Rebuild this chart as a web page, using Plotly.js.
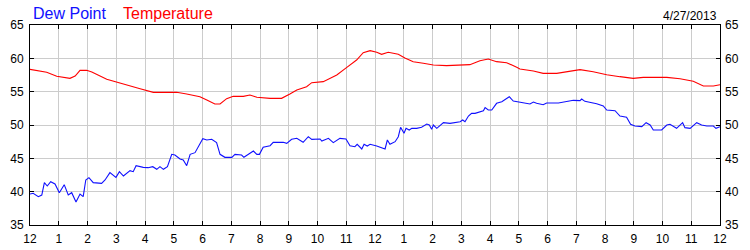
<!DOCTYPE html>
<html>
<head>
<meta charset="utf-8">
<script src="https://cdn.plot.ly/plotly-3.0.1.min.js"></script>
<style>html,body{margin:0;padding:0;background:#fff}#chart{width:750px;height:250px}</style>
</head>
<body>
<div id="chart"></div>
<script>
// Hours since midnight (0 = 12 AM, 24 = next 12 AM)
const tempHours = [0,0.58,0.93,1.39,1.57,1.74,1.97,2.15,2.67,3.13,3.59,3.83,4.29,5.10,5.45,5.91,6.15,6.43,6.61,6.84,7.07,7.42,7.65,7.89,8.35,8.75,9.04,9.28,9.62,9.80,10.20,10.67,11.02,11.36,11.59,11.83,12.06,12.23,12.46,12.81,13.04,13.33,13.68,14.03,14.49,14.84,15.30,15.65,15.94,16.23,16.58,16.93,17.04,17.51,17.85,18.32,18.67,19.13,19.59,20.06,20.52,20.98,21.33,22.15,22.61,23.07,23.42,23.77,24];
const temperature = [58.35,57.9,57.3,57.0,57.35,58.2,58.2,57.95,56.85,56.25,55.7,55.45,54.9,54.9,54.65,54.25,53.75,53.15,53.15,53.95,54.3,54.3,54.5,54.15,54.0,54.0,54.65,55.25,55.75,56.35,56.5,57.5,58.65,59.75,60.85,61.15,60.9,60.6,60.9,60.6,60.05,59.5,59.25,59.0,58.9,59.0,59.05,59.65,59.9,59.5,59.35,58.65,58.4,58.1,57.75,57.75,58.0,58.3,58.0,57.55,57.25,57.0,57.15,57.15,56.95,56.55,55.85,55.85,56.05];

const dewHours = [0,0.11,0.29,0.41,0.50,0.60,0.72,0.87,1.02,1.19,1.33,1.45,1.60,1.74,1.85,1.94,2.05,2.20,2.49,2.61,2.78,2.99,3.11,3.25,3.48,3.59,3.69,3.94,4.11,4.27,4.41,4.52,4.64,4.78,4.93,5.04,5.22,5.33,5.45,5.57,5.74,5.91,6.01,6.15,6.32,6.49,6.61,6.78,7.02,7.13,7.36,7.44,7.59,7.77,7.89,7.98,8.11,8.35,8.46,8.81,8.93,9.10,9.28,9.39,9.50,9.68,9.80,10.09,10.15,10.38,10.55,10.78,10.99,11.13,11.30,11.38,11.54,11.62,11.73,11.83,12.06,12.35,12.43,12.52,12.70,12.81,12.89,13.01,13.08,13.19,13.28,13.45,13.62,13.80,13.89,13.97,14.03,14.15,14.38,14.61,14.96,15.05,15.13,15.25,15.36,15.48,15.77,15.83,15.94,16.06,16.23,16.41,16.52,16.67,16.81,17.04,17.39,17.51,17.62,17.85,17.97,18.38,18.90,19.13,19.19,19.30,19.71,19.94,20.06,20.35,20.52,20.75,20.89,21.04,21.28,21.43,21.57,21.68,21.97,22.15,22.26,22.49,22.70,22.78,22.96,23.19,23.36,23.54,23.77,23.86,24];
const dewPoint = [39.65,39.75,39.25,39.5,41.35,40.85,41.5,41.15,39.85,41.05,39.5,39.85,38.45,39.65,39.25,41.75,42.1,41.35,41.25,41.75,42.85,42.15,43.0,42.35,43.15,43.0,43.9,43.65,43.6,43.75,43.35,43.75,43.35,43.75,45.6,45.5,44.9,44.75,43.9,45.6,45.85,47.15,47.95,47.75,47.85,47.35,45.6,45.15,45.15,45.6,45.5,45.15,45.6,46.1,45.6,45.6,46.65,46.9,47.4,47.4,47.25,47.85,48.0,47.65,47.4,48.25,47.85,47.9,47.6,48.0,47.35,48.0,47.9,46.9,46.75,47.1,46.4,47.1,46.85,47.1,46.85,46.4,47.75,47.1,47.5,48.25,49.65,48.75,49.5,49.25,49.5,49.5,49.65,50.15,50.0,49.35,50.0,49.5,50.35,50.25,50.5,50.75,50.5,51.35,51.75,51.75,52.15,52.6,52.25,52.25,53.25,53.5,53.85,54.25,53.6,53.4,53.15,53.45,53.25,53.05,53.3,53.3,53.7,53.65,53.9,53.55,53.2,52.85,52.25,52.15,51.35,51.15,50.1,49.85,49.75,50.35,50.0,49.25,49.25,50.0,50.1,49.5,50.35,49.6,49.5,50.35,50.0,49.85,49.85,49.5,49.75];

const tickVals = [0,1,2,3,4,5,6,7,8,9,10,11,12,13,14,15,16,17,18,19,20,21,22,23,24];
const tickText = ['12','1','2','3','4','5','6','7','8','9','10','11','12','1','2','3','4','5','6','7','8','9','10','11','12'];
const yTicks = [35,40,45,50,55,60,65];
const dateLabel = '4/27/2013';

const font = {family: 'Arial, "Liberation Sans", sans-serif', size: 12, color: '#000'};

const traces = [
  {x: dewHours, y: dewPoint, type: 'scatter', mode: 'lines', name: 'Dew Point',
   line: {color: '#1010ff', width: 1.1}, hoverinfo: 'skip'},
  {x: tempHours, y: temperature, type: 'scatter', mode: 'lines', name: 'Temperature',
   line: {color: '#ff0000', width: 1.1}, hoverinfo: 'skip'}
];

const layout = {
  width: 750, height: 250,
  margin: {l: 30, r: 30, t: 25, b: 25, pad: 0},
  paper_bgcolor: '#fff', plot_bgcolor: '#fff',
  showlegend: false,
  font: font,
  xaxis: {
    range: [0, 24], tickvals: tickVals, ticktext: tickText,
    showgrid: true, gridcolor: '#cccccc', gridwidth: 1,
    ticks: 'inside', ticklen: 4, tickcolor: '#000', tickwidth: 1,
    showline: true, linecolor: '#000', linewidth: 1, mirror: 'ticks',
    zeroline: false, fixedrange: true, tickfont: font, ticklabelstandoff: 3
  },
  yaxis: {
    range: [35, 65], tickvals: yTicks,
    showgrid: true, gridcolor: '#cccccc', gridwidth: 1,
    ticks: 'inside', ticklen: 4, tickcolor: '#000', tickwidth: 1,
    showline: true, linecolor: '#000', linewidth: 1, mirror: true,
    zeroline: false, fixedrange: true, tickfont: font, ticklabelstandoff: 3
  },
  yaxis2: {
    range: [35, 65], tickvals: yTicks, overlaying: 'y', side: 'right',
    showgrid: false, ticks: 'inside', ticklen: 4, tickcolor: '#000', tickwidth: 1,
    showline: false, zeroline: false, fixedrange: true, tickfont: font, ticklabelstandoff: 4
  },
  annotations: [
    {xref: 'paper', yref: 'paper', x: 1/690, y: 1, yshift: 1, xanchor: 'left', yanchor: 'bottom',
     text: 'Dew Point', showarrow: false, font: {family: font.family, size: 16, color: '#1010ff'}},
    {xref: 'paper', yref: 'paper', x: 91/690, y: 1, yshift: 1, xanchor: 'left', yanchor: 'bottom',
     text: 'Temperature', showarrow: false, font: {family: font.family, size: 16, color: '#ff0000'}},
    {xref: 'paper', yref: 'paper', x: 1, xshift: -1, y: 1, xanchor: 'right', yanchor: 'bottom',
     text: dateLabel, showarrow: false, font: {family: font.family, size: 12, color: '#000'}}
  ]
};

// invisible trace to activate the right-hand axis
traces.push({x: [0], y: [35], yaxis: 'y2', type: 'scatter', mode: 'markers',
  marker: {opacity: 0}, hoverinfo: 'skip', showlegend: false});

Plotly.newPlot('chart', traces, layout, {staticPlot: true, displayModeBar: false});
</script>
</body>
</html>
